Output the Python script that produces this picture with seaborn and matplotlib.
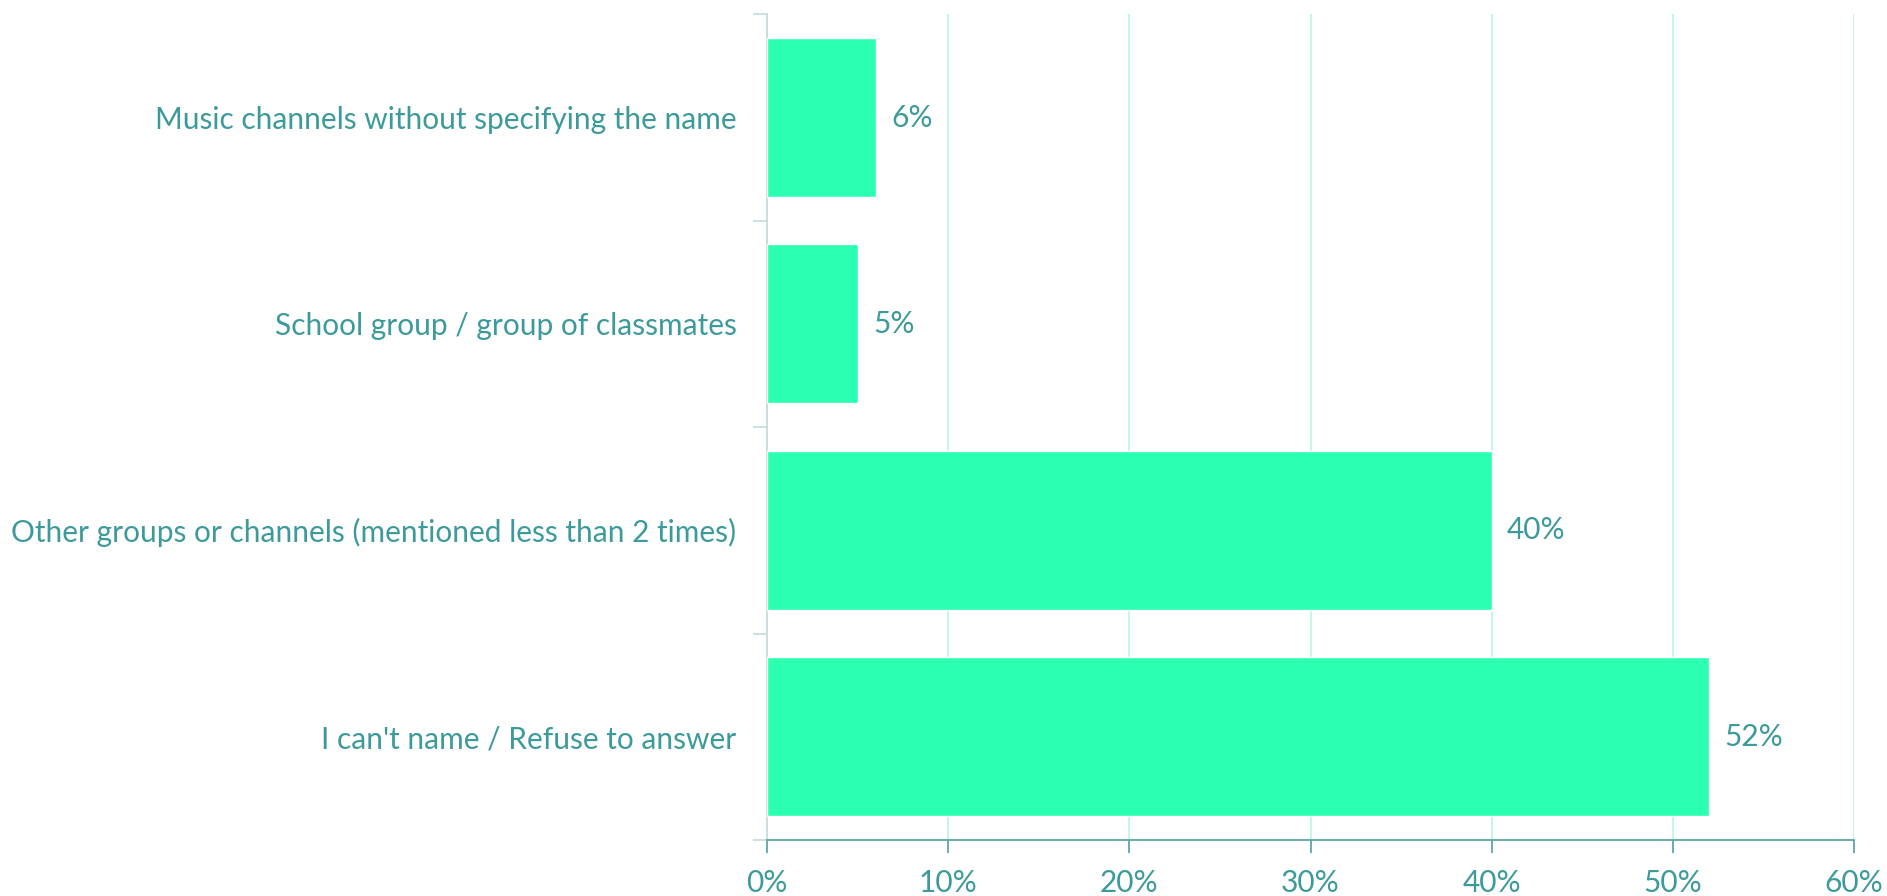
import matplotlib.pyplot as plt
import seaborn as sns
import pandas as pd
from matplotlib.ticker import PercentFormatter

# =========================
# DATA
# =========================
categories = [
    "Music channels without specifying the name",
    "School group / group of classmates",
    "Other groups or channels (mentioned less than 2 times)",
    "I can't name / Refuse to answer",
]
values = [6, 5, 40, 52]
x_ticks = [0, 10, 20, 30, 40, 50, 60]

# =========================
# STYLE
# =========================
TEXT = "#3d9a9a"
BAR = "#2bffb2"
GRID = "#b9f5e5"
FS = 21.5

sns.set_theme(style="white")
plt.rcParams["font.family"] = ["Lato", "DejaVu Sans"]

df = pd.DataFrame({"category": categories, "value": values})

fig = plt.figure(figsize=(18.87, 8.96), dpi=100)
ax = fig.add_axes([0.4065, 0.0625, 0.576, 0.9215])

sns.barplot(data=df, y="category", x="value", color=BAR, width=0.77,
            saturation=1, ax=ax, zorder=3)

ax.set_xlim(0, 60)
ax.set_ylim(len(categories) - 0.5, -0.5)
ax.set_xticks(x_ticks)
ax.xaxis.set_major_formatter(PercentFormatter(decimals=0))
ax.set_xlabel("")
ax.set_ylabel("")

# vertical grid
ax.grid(axis="x", color=GRID, linewidth=1.2, zorder=0)
ax.grid(axis="y", visible=False)

# y ticks at category boundaries, labels centered
ax.set_yticks([i - 0.5 for i in range(len(categories) + 1)], minor=False)
ax.set_yticklabels([])
ax.set_yticks(range(len(categories)), minor=True)
ax.set_yticklabels(categories, minor=True)
ax.tick_params(axis="y", which="major", length=10, width=1.2, color="#c4dcdc", left=True)
ax.tick_params(axis="y", which="minor", length=0, pad=22, labelsize=FS, labelcolor=TEXT)
ax.tick_params(axis="x", length=9, width=1.3, color="#5fa5a5", bottom=True,
               labelsize=FS, labelcolor=TEXT, pad=12)

for side in ["top", "right"]:
    ax.spines[side].set_visible(False)
ax.spines["left"].set_color("#c4dcdc")
ax.spines["left"].set_linewidth(1.2)
ax.spines["bottom"].set_color("#5fa5a5")
ax.spines["bottom"].set_linewidth(1.3)

# value labels
for i, v in enumerate(values):
    ax.text(v + 0.85, i, f"{v}%", va="center", ha="left", fontsize=FS, color=TEXT)

fig.savefig("out.png", dpi=100)
